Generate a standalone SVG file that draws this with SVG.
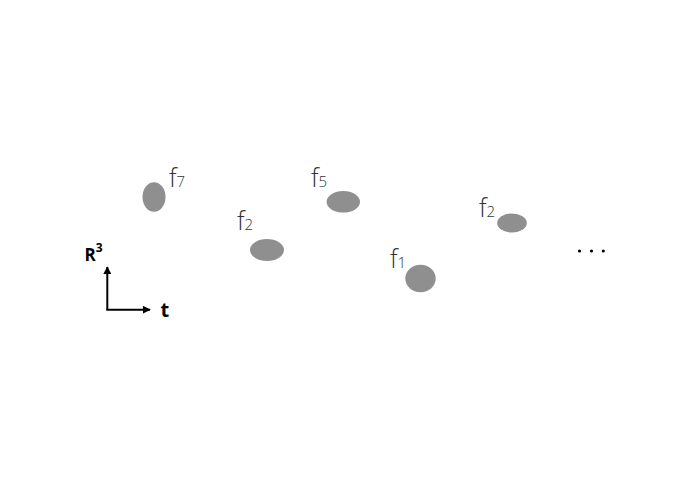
<svg xmlns="http://www.w3.org/2000/svg" width="692" height="489" viewBox="0 0 692 489">
<style>
.blob{fill:#8f8f8f}
.lbl{font-family:"Open Sans","Liberation Sans",sans-serif;font-weight:300;font-size:25px;fill:#333}
.sub{font-size:15px}
.ax{font-family:"Open Sans","Liberation Sans",sans-serif;font-weight:700;fill:#000}
.axis{stroke:#000;stroke-width:2;fill:none}
</style>
<defs>
<marker id="ah" viewBox="0 0 10 10" refX="9" refY="5" markerWidth="4" markerHeight="4" orient="auto" markerUnits="strokeWidth">
<path d="M0,0 L10,5 L0,10 z" fill="#000"/>
</marker>
</defs>
<rect width="692" height="489" fill="#fff"/>
<g id="node-f7"><ellipse class="blob" cx="154" cy="197" rx="11.5" ry="14.7"/><text class="lbl" x="169" y="187">f<tspan class="sub">7</tspan></text></g>
<g id="node-f2a"><ellipse class="blob" cx="267" cy="250" rx="17" ry="11"/><text class="lbl" x="237" y="230">f<tspan class="sub">2</tspan></text></g>
<g id="node-f5"><ellipse class="blob" cx="343.3" cy="201.8" rx="16.7" ry="10.8"/><text class="lbl" x="311" y="187">f<tspan class="sub">5</tspan></text></g>
<g id="node-f1"><ellipse class="blob" cx="420.5" cy="278.5" rx="15.2" ry="13.8"/><text class="lbl" x="390" y="268">f<tspan class="sub">1</tspan></text></g>
<g id="node-f2b"><ellipse class="blob" cx="512" cy="223" rx="14.8" ry="9.5"/><text class="lbl" x="479" y="216.5">f<tspan class="sub">2</tspan></text></g>
<g id="ellipsis"><circle cx="579.5" cy="251" r="1.6"/><circle cx="591.5" cy="251" r="1.6"/><circle cx="603.3" cy="251" r="1.6"/></g>
<g id="axes">
<path class="axis" d="M107.3,310 L107.3,267" marker-end="url(#ah)"/>
<path class="axis" d="M106.3,309.7 L150,309.7" marker-end="url(#ah)"/>
<text class="ax" x="84.5" y="261.3" font-size="17">R<tspan font-size="12" dy="-9">3</tspan></text>
<text class="ax" x="160.5" y="317" font-size="20">t</text>
</g>
</svg>
